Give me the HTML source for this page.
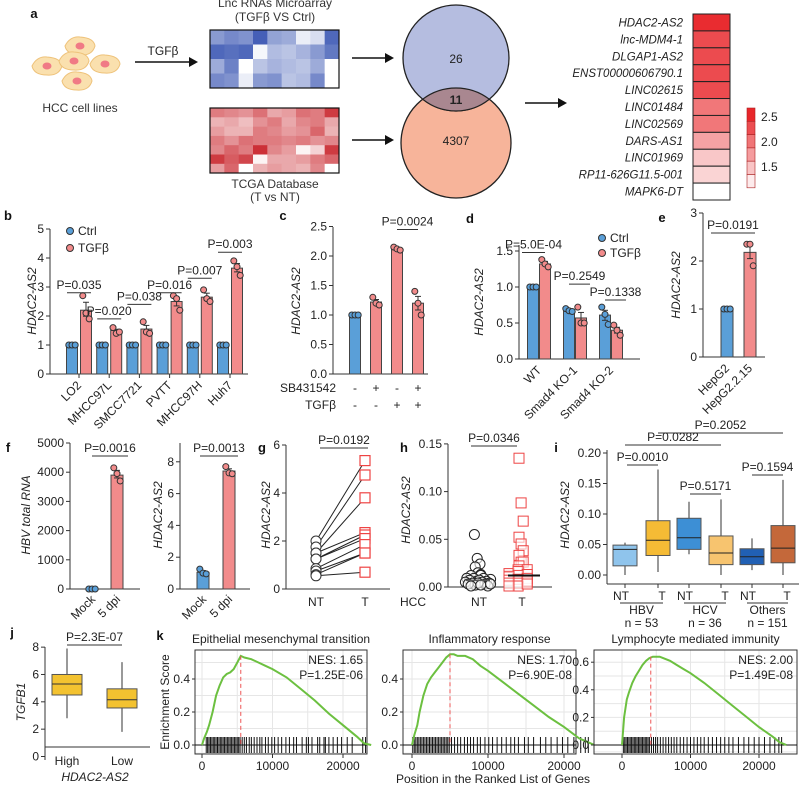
<!DOCTYPE html>
<html><head><meta charset="utf-8"><style>
html,body{margin:0;padding:0;background:#fff;}
svg{display:block;font-family:"Liberation Sans",Arial,sans-serif;}
</style></head><body>
<svg id="fig" width="799" height="786" viewBox="0 0 799 786" xmlns="http://www.w3.org/2000/svg"></svg>
<script>
// ---------- data ----------
const blueHeat=[[.6,.7,.65,.95,.55,.5,.1,.2,.9],[.9,.85,.9,.05,.4,.35,.45,.6,.8],[.5,.75,0,.35,.45,.4,.35,.5,0],[.7,.65,.1,.6,.65,.35,.4,.7,0]];
const redHeat=[[.6,.55,.5,.65,.4,.45,.65,.6,.9],[.35,.4,.3,.5,.6,.4,.55,.6,.4],[.45,.35,.35,.6,.55,.45,.5,.7,.35],[.6,.5,.65,.6,.6,.55,.6,.5,.55],[.55,.7,.6,.95,.55,.45,.05,.2,.9],[.9,.75,.85,.05,.4,.4,.45,.6,.7],[.45,.7,0,.35,.45,.4,.35,.55,0]];
const geneNames=["HDAC2-AS2","lnc-MDM4-1","DLGAP1-AS2","ENST00000606790.1","LINC02615","LINC01484","LINC02569","DARS-AS1","LINC01969","RP11-626G11.5-001","MAPK6-DT"];
const geneFC=[2.7,2.45,2.45,2.45,2.45,2.1,2.1,1.75,1.45,1.35,1.0];
const vennCounts=["26","11","4307"];
const bCells=["LO2","MHCC97L","SMCC7721","PVTT","MHCC97H","Huh7"];
const bCtrl=[1,1,1,1,1,1];
const bTgf=[2.2,1.5,1.55,2.5,2.65,3.65];
const bTgfDots=[[2.7,2.1,1.9],[1.6,1.4,1.45],[1.8,1.45,1.4],[2.7,2.6,2.2],[2.9,2.6,2.5],[3.9,3.7,3.4]];
const bP=["P=0.035","P=0.020","P=0.038","P=0.016","P=0.007","P=0.003"];
const bPLevel=[2.8,1.9,2.4,2.8,3.3,4.2];
const cVals=[1.0,1.22,2.12,1.2];
const cDots=[[1,1,1],[1.3,1.2,1.17],[2.15,2.12,2.1],[1.4,1.2,1.0]];
const cSB=["-","+","-","+"];
const cTGF=["-","-","+","+"];
const dGroups=["WT","Smad4 KO-1","Smad4 KO-2"];
const dCtrl=[1.0,0.67,0.61];
const dTgf=[1.32,0.57,0.40];
const dCtrlDots=[[1,1,1],[0.7,0.67,0.66],[0.72,0.62,0.48]];
const dTgfDots=[[1.38,1.32,1.28],[0.72,0.5,0.5],[0.47,0.4,0.33]];
const dP=["P=5.0E-04","P=0.2549","P=0.1338"];
const dPLevel=[1.48,1.04,0.82];
const eCats=["HepG2","HepG2.2.15"];
const eVals=[1.0,2.18];
const eDots=[[1,1,1],[2.35,2.35,1.9]];
const fHbv=[0,3900];
const fHbvDots=[[0,0,0],[4150,3950,3700]];
const fHd=[1.05,7.42];
const fHdDots=[[1.25,1.0,0.95],[7.7,7.3,7.25]];
const gNT=[2.0,1.75,1.5,1.5,1.25,1.25,0.85,0.75,0.6,0.55];
const gT=[5.35,4.75,3.8,2.35,2.25,2.1,1.85,1.5,1.5,0.7];
const hNT=[0.055,0.029,0.022,0.018,0.015,0.012,0.01,0.009,0.008,0.008,0.007,0.006,0.006,0.005,0.005,0.004,0.004,0.003,0.003,0.002,0.002,0.002,0.001,0.001,0.001,0.0,0.0,0.0];
const hT=[0.135,0.085,0.068,0.048,0.043,0.038,0.03,0.025,0.022,0.02,0.018,0.015,0.013,0.012,0.011,0.01,0.009,0.008,0.007,0.006,0.005,0.004,0.003,0.002,0.002,0.001,0.0,0.0];
const iLabels=["NT","T","NT","T","NT","T"];
const iLo=[0.0,0.005,0.034,0.0,0.008,0.0];
const iQ1=[0.015,0.032,0.042,0.017,0.017,0.020];
const iMed=[0.042,0.057,0.061,0.036,0.030,0.044];
const iQ3=[0.049,0.089,0.093,0.064,0.043,0.081];
const iHi=[0.053,0.173,0.120,0.124,0.060,0.156];
const iGroups=["HBV","HCV","Others"];
const iN=["n = 53","n = 36","n = 151"];
const jCats=["High","Low"];
const jLo=[2.8,1.8],jQ1=[4.5,3.55],jMed=[5.3,4.15],jQ3=[6.0,4.95],jHi=[7.9,6.9];
const kTitles=["Epithelial mesenchymal transition","Inflammatory response","Lymphocyte mediated immunity"];
const kNES=["NES: 1.65","NES: 1.70","NES: 2.00"];
const kP=["P=1.25E-06","P=6.90E-08","P=1.49E-08"];
const kPos=[0,300,700,1000,1500,2000,2500,3000,3500,4000,4500,5000,5500,6000,7000,8000,9000,10000,12000,14000,16000,18000,20000,22000,23000,24000];
const kES1=[0,0.04,0.08,0.12,0.2,0.3,0.36,0.41,0.43,0.44,0.46,0.5,0.54,0.53,0.52,0.5,0.48,0.46,0.41,0.34,0.27,0.19,0.12,0.05,0.01,0];
const kES2=[0,0.06,0.12,0.2,0.3,0.37,0.41,0.44,0.47,0.5,0.53,0.55,0.55,0.54,0.54,0.52,0.48,0.45,0.38,0.31,0.24,0.17,0.11,0.04,0.02,0];
const kES3=[0,0.2,0.33,0.38,0.45,0.5,0.54,0.58,0.61,0.63,0.64,0.64,0.64,0.63,0.61,0.58,0.55,0.52,0.45,0.37,0.29,0.21,0.13,0.06,0.02,0];
const kPeak=[5500,5000,4200];
const kHits1=[600,800,1000,1200,1400,1600,1800,2000,2200,2400,2600,2800,3000,3200,3400,3600,3800,4000,4200,4400,4600,4800,5000,5200,5400,5700,6000,6300,6700,7000,7400,7800,8200,8500,9000,9400,9900,10300,10800,11300,11900,12400,13000,13400,14200,14800,15100,15600,16400,16700,17300,17500,18000,18600,19200,19800,20600,21300,22800,23200];
const kHits2=[100,300,500,700,900,1100,1300,1500,1700,1900,2100,2300,2500,2700,2900,3100,3300,3500,3700,3900,4100,4300,4500,4700,4900,5200,5600,6000,6400,6900,7300,7700,8100,8600,9000,9600,10100,10600,11200,11800,12400,13000,13500,14000,14800,15300,16000,16900,17600,18300,19100,19800,20500,21300,22200,22800,23200];
const kHits3=[200,400,600,800,1000,1200,1400,1600,1800,2000,2200,2400,2600,2800,3000,3200,3400,3600,3800,4000,4300,4600,4900,5200,5600,6000,6400,6800,7200,7600,8000,8500,9000,9500,10000,10500,11000,11500,12000,12600,13200,13800,14400,15000,15600,16200,17000,17800,18500,19300,20000,20800,21600,22300,22900,23300];

// ---------- helpers ----------
const NS="http://www.w3.org/2000/svg";
const svg=document.getElementById('fig');
function mk(tag,attrs,name,parent){
  const e=document.createElementNS(NS,tag);
  for(const k in attrs) e.setAttribute(k,attrs[k]);
  
  
  (parent||svg).appendChild(e);
  return e;
}
function tx(x,y,s,name,o){
  o=o||{};
  const a={x:x,y:y,'font-size':o.fs||12,fill:o.fill||'#222','text-anchor':o.anchor||'middle'};
  if(o.italic) a['font-style']='italic';
  if(o.bold) a['font-weight']='bold';
  if(o.rot!==undefined) a.transform='rotate('+o.rot+' '+x+' '+y+')';
  const e=mk('text',a,name);
  e.textContent=s;
  return e;
}
function ln(x1,y1,x2,y2,name,o){
  o=o||{};
  return mk('line',{x1:x1,y1:y1,x2:x2,y2:y2,stroke:o.c||'#333','stroke-width':o.w||1,'stroke-dasharray':o.dash||'none'},name);
}
function rc(x,y,w,h,fill,name,o){
  o=o||{};
  return mk('rect',{x:x,y:y,width:w,height:h,fill:fill,stroke:o.s||'none','stroke-width':o.sw||1,'fill-opacity':o.fo===undefined?1:o.fo},name);
}
function ci(cx,cy,r,fill,name,o){
  o=o||{};
  return mk('circle',{cx:cx,cy:cy,r:r,fill:fill,stroke:o.s||'#333','stroke-width':o.sw||1,'fill-opacity':o.fo===undefined?1:o.fo},name);
}
function mix(c1,c2,t){
  const p=c=>[parseInt(c.substr(1,2),16),parseInt(c.substr(3,2),16),parseInt(c.substr(5,2),16)];
  const a=p(c1),b=p(c2);
  return 'rgb('+a.map((v,i)=>Math.round(v+(b[i]-v)*t)).join(',')+')';
}
function arrow(x1,x2,y,name){
  ln(x1,y,x2-8,y,name+'-shaft',{w:1.5,c:'#111'});
  mk('path',{d:'M'+(x2-9)+' '+(y-5)+' L'+x2+' '+y+' L'+(x2-9)+' '+(y+5)+' Z',fill:'#111'},name+'-head');
}
const BLUE='#5a9fd8',RED='#f28b8b';
function yAxis(x,yTop,yBot,ticks,scale,fmt,name){
  ln(x,yTop,x,yBot,name+'-line');
  ticks.forEach(t=>{const y=scale(t);ln(x-4,y,x,y,name+'-tick');tx(x-6,y+4,fmt(t),name+'-label',{anchor:'end'});});
}
function bar(x,w,v,scale,color,name){
  const y0=scale(0),y=scale(v);
  rc(x-w/2,y,w,y0-y,color,name,{s:'#444'});
}
function errDots(x,vals,scale,color,name){
  const m=vals.reduce((a,b)=>a+b,0)/vals.length;
  const sd=Math.sqrt(vals.reduce((a,b)=>a+(b-m)*(b-m),0)/(vals.length-1))/Math.sqrt(vals.length);
  ln(x,scale(m-sd),x,scale(m+sd),name+'-errorbar');
  ln(x-3,scale(m+sd),x+3,scale(m+sd),name+'-errorcap');
  ln(x-3,scale(m-sd),x+3,scale(m-sd),name+'-errorcap');
  vals.forEach((v,i)=>ci(x+(i-1)*3.2,scale(v),3,color,name+'-dot'));
}
function pLine(x1,x2,y,s,name){
  ln(x1,y,x2,y,name+'-bracket');
  tx((x1+x2)/2,y-4,s,name,{fs:12});
}

// ---------- panel a ----------
tx(34,18,'a','panel-label-a',{bold:true,fs:13,fill:'#111'});
[[47,66],[80,46],[74,61],[105,64],[77,81]].forEach((p,i)=>{
  mk('path',{d:'M'+(p[0]-15)+' '+p[1]+' Q'+(p[0]-10)+' '+(p[1]-10)+' '+p[0]+' '+(p[1]-9)+' Q'+(p[0]+14)+' '+(p[1]-8)+' '+(p[0]+15)+' '+p[1]+' Q'+(p[0]+12)+' '+(p[1]+10)+' '+p[0]+' '+(p[1]+9)+' Q'+(p[0]-13)+' '+(p[1]+9)+' '+(p[0]-15)+' '+p[1]+' Z',fill:'#fae0ae',stroke:'#eec27a','stroke-width':1},'hcc-cell');
  mk('ellipse',{cx:p[0],cy:p[1],rx:4.5,ry:3.5,fill:'#f07a85'},'cell-nucleus');
});
tx(80,112,'HCC cell lines','hcc-cell-lines-label',{fs:12,fill:'#333'});
arrow(135,198,62,'tgfb-arrow');
tx(163,55,'TGFβ','tgfb-arrow-label',{fs:12});
tx(275,7,'Lnc RNAs Microarray','microarray-title',{fs:12,fill:'#333'});
tx(275,21,'(TGFβ VS Ctrl)','microarray-subtitle',{fs:12,fill:'#333'});
const bw=129/9;
blueHeat.forEach((row,r)=>row.forEach((v,c)=>rc(210+c*bw,30+r*14.5,bw+0.3,14.8,mix('#ffffff','#3b57b3',v),'microarray-cell')));
rc(210,30,129,58,'none','microarray-heatmap',{s:'#111',sw:1.2});
redHeat.forEach((row,r)=>row.forEach((v,c)=>rc(210+c*bw,108+r*9.3,bw+0.3,9.6,mix('#ffffff','#c9252c',v),'tcga-cell')));
rc(210,108,129,65,'none','tcga-heatmap',{s:'#111',sw:1.2});
tx(275,188,'TCGA Database','tcga-title',{fs:12,fill:'#333'});
tx(275,201,'(T vs NT)','tcga-subtitle',{fs:12,fill:'#333'});
arrow(352,394,58,'microarray-arrow');
arrow(352,394,140,'tcga-arrow');
ci(456,143,55,'#f7b49a','venn-tcga-circle',{s:'#222',sw:1.3});
ci(456,58,53,'#b5bde0','venn-microarray-circle',{s:'#222',sw:1.3});
mk('path',{d:'M422.7 99.2 A53 53 0 0 0 489.3 99.2 A55 55 0 0 0 422.7 99.2 Z',fill:'#a98790',stroke:'#222','stroke-width':1.2},'venn-overlap');
tx(456,63,vennCounts[0],'venn-count-microarray',{fs:12});
tx(456,104,vennCounts[1],'venn-count-overlap',{fs:12,bold:true});
tx(456,145,vennCounts[2],'venn-count-tcga',{fs:12});
arrow(525,567,103,'venn-arrow');
const gh=186/11;
geneNames.forEach((g,i)=>{
  const t=(geneFC[i]-1)/1.75;
  rc(693,14+i*gh,37,gh,mix('#ffffff','#e8262a',Math.min(1,t)),'gene-heat-cell',{s:'#222',sw:1});
  tx(683,14+i*gh+gh/2+4,g,'gene-label',{anchor:'end',italic:true,fs:11.5});
});
for(let i=0;i<6;i++){rc(747,108+i*13.3,8,13.3,mix('#ffffff','#e8262a',1-i/5.5),'colorbar-cell',{s:'#aa2222',sw:0.6});}
tx(761,121,'2.5','colorbar-label',{anchor:'start'});
tx(761,146,'2.0','colorbar-label',{anchor:'start'});
tx(761,171,'1.5','colorbar-label',{anchor:'start'});

// ---------- panel b ----------
tx(8,220,'b','panel-label-b',{bold:true,fs:13,fill:'#111'});
const yb=v=>374-v*29;
yAxis(50,229,374,[0,1,2,3,4,5],yb,t=>t,'b-y-axis');
ln(50,374,248,374,'b-x-axis');
tx(36,301,'HDAC2-AS2','b-y-axis-title',{italic:true,rot:-90});
ci(70,231,3.5,BLUE,'b-legend-ctrl-dot');tx(78,235,'Ctrl','b-legend-ctrl',{anchor:'start'});
ci(70,248,3.5,RED,'b-legend-tgfb-dot');tx(78,252,'TGFβ','b-legend-tgfb',{anchor:'start'});
bCells.forEach((c,i)=>{
  const gx=79+i*30.2;
  bar(gx-7,11,bCtrl[i],yb,BLUE,'b-bar-ctrl');
  bar(gx+7,11,bTgf[i],yb,RED,'b-bar-tgfb');
  errDots(gx-7,[1,1,1],yb,BLUE,'b-ctrl');
  errDots(gx+7,bTgfDots[i],yb,RED,'b-tgfb');
  pLine(gx-12,gx+12,yb(bPLevel[i]),bP[i],'b-pvalue');
  ln(gx,374,gx,378,'b-x-tick');
  tx(gx+3,386,c,'b-x-label',{anchor:'end',rot:-45});
});

// ---------- panel c ----------
tx(283,220,'c','panel-label-c',{bold:true,fs:13,fill:'#111'});
const yc=v=>374-v*59;
yAxis(333,227,374,[0,0.5,1,1.5,2,2.5],yc,t=>t.toFixed(1),'c-y-axis');
ln(333,374,428,374,'c-x-axis');
tx(300,301,'HDAC2-AS2','c-y-axis-title',{italic:true,rot:-90});
cVals.forEach((v,i)=>{
  const x=355+i*21;
  bar(x,11,v,yc,i===0?BLUE:RED,'c-bar');
  errDots(x,cDots[i],yc,i===0?BLUE:RED,'c-bar');
  tx(x,392,cSB[i],'c-sb431542-sign');
  tx(x,409,cTGF[i],'c-tgfb-sign');
});
tx(336,392,'SB431542','c-sb431542-label',{anchor:'end'});
tx(336,409,'TGFβ','c-tgfb-label',{anchor:'end'});
pLine(397,418,yc(2.45),'P=0.0024','c-pvalue');

// ---------- panel d ----------
tx(470,223,'d','panel-label-d',{bold:true,fs:13,fill:'#111'});
const yd=v=>359-v*72;
yAxis(519,245,359,[0,0.5,1,1.5],yd,t=>t.toFixed(1),'d-y-axis');
ln(519,359,640,359,'d-x-axis');
tx(483,302,'HDAC2-AS2','d-y-axis-title',{italic:true,rot:-90});
ci(602,238,3.5,BLUE,'d-legend-ctrl-dot');tx(610,242,'Ctrl','d-legend-ctrl',{anchor:'start'});
ci(602,253,3.5,RED,'d-legend-tgfb-dot');tx(610,257,'TGFβ','d-legend-tgfb',{anchor:'start'});
dGroups.forEach((g,i)=>{
  const gx=539+i*36;
  bar(gx-6,11,dCtrl[i],yd,BLUE,'d-bar-ctrl');
  bar(gx+6,11,dTgf[i],yd,RED,'d-bar-tgfb');
  errDots(gx-6,dCtrlDots[i],yd,BLUE,'d-ctrl');
  errDots(gx+6,dTgfDots[i],yd,RED,'d-tgfb');
  const x1=i===0?522:gx-6, x2=i===0?545:gx+15;
  pLine(x1,x2,yd(dPLevel[i]),dP[i],'d-pvalue');
  tx(gx+3,371,g,'d-x-label',{anchor:'end',rot:-45});
});

// ---------- panel e ----------
tx(662,222,'e','panel-label-e',{bold:true,fs:13,fill:'#111'});
const ye=v=>357-v*48;
yAxis(703,213,357,[0,1,2,3],ye,t=>t,'e-y-axis');
ln(703,357,765,357,'e-x-axis');
tx(680,285,'HDAC2-AS2','e-y-axis-title',{italic:true,rot:-90});
eCats.forEach((c,i)=>{
  const x=727+i*23;
  bar(x,12,eVals[i],ye,i===0?BLUE:RED,'e-bar');
  errDots(x,eDots[i],ye,i===0?BLUE:RED,'e-bar');
  tx(x+3,369,c,'e-x-label',{anchor:'end',rot:-45});
});
pLine(711,755,233,'P=0.0191','e-pvalue');

// ---------- panel f ----------
tx(8,452,'f','panel-label-f',{bold:true,fs:13,fill:'#111'});
const yf1=v=>589-v*0.0292;
yAxis(70,443,589,[0,1000,2000,3000,4000,5000],yf1,t=>t,'f-hbv-y-axis');
ln(70,589,140,589,'f-hbv-x-axis');
tx(30,515,'HBV total RNA','f-hbv-y-axis-title',{italic:true,rot:-90});
['Mock','5 dpi'].forEach((c,i)=>{
  const x=92+i*25;
  bar(x,12,fHbv[i],yf1,i===0?BLUE:RED,'f-hbv-bar');
  errDots(x,fHbvDots[i],yf1,i===0?BLUE:RED,'f-hbv-bar');
  tx(x+4,600,c,'f-hbv-x-label',{anchor:'end',rot:-45});
});
pLine(92,128,456,'P=0.0016','f-hbv-pvalue');
const yf2=v=>589-v*15.9;
yAxis(180,443,589,[0,2,4,6,8],yf2,t=>t,'f-hdac-y-axis');
ln(180,589,250,589,'f-hdac-x-axis');
tx(162,515,'HDAC2-AS2','f-hdac-y-axis-title',{italic:true,rot:-90});
['Mock','5 dpi'].forEach((c,i)=>{
  const x=203+i*26;
  bar(x,12,fHd[i],yf2,i===0?BLUE:RED,'f-hdac-bar');
  errDots(x,fHdDots[i],yf2,i===0?BLUE:RED,'f-hdac-bar');
  tx(x+4,600,c,'f-hdac-x-label',{anchor:'end',rot:-45});
});
pLine(200,238,456,'P=0.0013','f-hdac-pvalue');

// ---------- panel g ----------
tx(262,452,'g','panel-label-g',{bold:true,fs:13,fill:'#111'});
const yg=v=>589-v*24;
yAxis(286,445,589,[0,2,4,6],yg,t=>t,'g-y-axis');
ln(286,589,390,589,'g-x-axis');
tx(270,515,'HDAC2-AS2','g-y-axis-title',{italic:true,rot:-90});
gNT.forEach((v,i)=>ln(316,yg(v),365,yg(gT[i]),'g-pair-line',{c:'#222'}));
gNT.forEach(v=>ci(316,yg(v),5,'#fff','g-nt-point',{s:'#333'}));
gT.forEach(v=>rc(360,yg(v)-5,10,10,'#fff','g-t-point',{s:'#ee4444',sw:1.2}));
tx(316,606,'NT','g-x-label');tx(365,606,'T','g-x-label');
pLine(320,368,448,'P=0.0192','g-pvalue');

// ---------- panel h ----------
tx(404,452,'h','panel-label-h',{bold:true,fs:13,fill:'#111'});
const yh=v=>587-v*954;
yAxis(448,444,587,[0,0.05,0.10,0.15],yh,t=>t.toFixed(2),'h-y-axis');
ln(448,587,552,587,'h-x-axis');
tx(410,510,'HDAC2-AS2','h-y-axis-title',{italic:true,rot:-90});
hNT.forEach((v,i)=>ci(478+((i*7)%19-9)*(v<0.012?1.4:0.4),yh(v)-((i*5)%4),5,'#fff','h-nt-point',{s:'#222',fo:0.6}));
hT.forEach((v,i)=>rc(522+((i*7)%21-10)*(v<0.02?1.3:0.3)-5,yh(v)-5-((i*3)%5),10,10,'#fff','h-t-point',{s:'#ee4444',sw:1,fo:0.6}));
ln(466,yh(0.007),490,yh(0.007),'h-nt-median',{w:1.5,c:'#555'});
ln(508,yh(0.012),540,yh(0.012),'h-t-median',{w:2,c:'#111'});
tx(413,606,'HCC','h-group-label');tx(479,606,'NT','h-x-label');tx(522,606,'T','h-x-label');
pLine(471,517,446,'P=0.0346','h-pvalue');

// ---------- panel i ----------
tx(556,452,'i','panel-label-i',{bold:true,fs:13,fill:'#111'});
const yi=v=>575-v*610;
yAxis(607,450,584,[0,0.05,0.10,0.15,0.20],yi,t=>t.toFixed(2),'i-y-axis');
ln(607,584,799,584,'i-x-axis');
tx(569,515,'HDAC2-AS2','i-y-axis-title',{italic:true,rot:-90});
const iCol=['#8fc4ec','#f5bb35','#3d8fd5','#f7c46f','#2160b4','#c4683a'];
const iX=[625,658,689,721,752,783];
iX.forEach((x,i)=>{
  ln(x,yi(iLo[i]),x,yi(iQ1[i]),'i-whisker-low');
  ln(x,yi(iQ3[i]),x,yi(iHi[i]),'i-whisker-high');
  rc(x-12,yi(iQ3[i]),24,yi(iQ1[i])-yi(iQ3[i]),iCol[i],'i-box',{s:'#555',sw:1});
  ln(x-12,yi(iMed[i]),x+12,yi(iMed[i]),'i-median',{c:'#222'});
  ln(x,584,x,588,'i-x-tick');
  tx(x+(i%2?4:-4),600,iLabels[i],'i-x-label');
});
iGroups.forEach((g,k)=>{
  const xa=iX[2*k],xb=iX[2*k+1];
  ln(xa-5,603,xb+5,603,'i-group-underline');
  tx((xa+xb)/2,614,g,'i-group-label');
  tx((xa+xb)/2,627,iN[k],'i-group-n');
});
pLine(658,783,433,'P=0.2052','i-pvalue-hbv-t-others-t');
pLine(625,721,445,'P=0.0282','i-pvalue-hbv-hcv');
pLine(627,658,465,'P=0.0010','i-pvalue-hbv');
pLine(690,721,494,'P=0.5171','i-pvalue-hcv');
pLine(752,783,475,'P=0.1594','i-pvalue-others');

// ---------- panel j ----------
tx(12,637,'j','panel-label-j',{bold:true,fs:13,fill:'#111'});
const yj=v=>756.5-v*13.67;
yAxis(45,647,760,[0,2,4,6,8],yj,t=>t,'j-y-axis');
ln(45,747,150,747,'j-x-axis');
tx(25,702,'TGFB1','j-y-axis-title',{italic:true,rot:-90});
jCats.forEach((c,i)=>{
  const x=67+i*55;
  ln(x,yj(jLo[i]),x,yj(jHi[i]),'j-whisker');
  rc(x-15,yj(jQ3[i]),30,yj(jQ1[i])-yj(jQ3[i]),'#f3c230','j-box',{s:'#555'});
  ln(x-15,yj(jMed[i]),x+15,yj(jMed[i]),'j-median',{c:'#333'});
  tx(x,765,c,'j-x-label');
});
tx(95,781,'HDAC2-AS2','j-x-axis-title',{italic:true});
pLine(67,122,645,'P=2.3E-07','j-pvalue');

// ---------- panel k ----------
tx(160,640,'k','panel-label-k',{bold:true,fs:13,fill:'#111'});
const kCfg=[
 {x0:195,x1:367,zero:202,px10k:70.5,yz:745,pxu:165,ticks:[0,0.2,0.4],es:kES1,hits:kHits1},
 {x0:403,x1:576,zero:412,px10k:76,yz:745,pxu:165,ticks:[0,0.2,0.4],es:kES2,hits:kHits2},
 {x0:594,x1:797,zero:622,px10k:68.5,yz:745,pxu:138,ticks:[0,0.2,0.4,0.6],es:kES3,hits:kHits3}];
kCfg.forEach((c,k)=>{
  const X=p=>c.zero+p/10000*c.px10k, Y=v=>c.yz-v*c.pxu;
  rc(c.x0,650,c.x1-c.x0,104,'#fff','k-plot-'+(k+1)+'-panel');
  [0,5000,10000,15000,20000].forEach(p=>ln(X(p),650,X(p),754,'k-grid-x',{c:'#e6e6e6'}));
  [-0.05,0.1,0.3,0.5,0.7].concat(c.ticks).forEach(v=>{if(Y(v)>650&&Y(v)<754)ln(c.x0,Y(v),c.x1,Y(v),'k-grid-y',{c:'#e6e6e6'});});
  rc(c.x0,650,c.x1-c.x0,104,'none','k-plot-'+(k+1)+'-frame',{s:'#333'});
  ln(c.x0,c.yz,c.x1,c.yz,'k-zero-line',{c:'#111'});
  c.hits.forEach(p=>ln(X(p),c.yz-8,X(p),c.yz+8,'k-hit-tick',{c:'#111'}));
  let d='';
  kPos.forEach((p,i)=>{d+=(i?'L':'M')+X(p).toFixed(1)+' '+Y(c.es[i]).toFixed(1)+' ';});
  mk('path',{d:d,fill:'none',stroke:'#6cc040','stroke-width':2},'k-enrichment-curve');
  ln(X(kPeak[k]),Y(Math.max.apply(null,c.es)),X(kPeak[k]),c.yz,'k-peak-line',{c:'#ee5555',dash:'4,3'});
  c.ticks.forEach(v=>{ln(c.x0-3,Y(v),c.x0,Y(v),'k-y-tick');tx(c.x0-5,Y(v)+4,v.toFixed(1),'k-y-label',{anchor:'end'});});
  [0,10000,20000].forEach(p=>{ln(X(p),754,X(p),758,'k-x-tick');tx(X(p),770,String(p),'k-x-label');});
  tx((c.x0+c.x1)/2,643,kTitles[k],'k-title',{fs:12});
  tx(c.x1-4,664,kNES[k],'k-nes',{anchor:'end'});
  tx(c.x1-4,679,kP[k],'k-pvalue',{anchor:'end'});
});
tx(169,702,'Enrichment Score','k-y-axis-title',{rot:-90});
tx(493,783,'Position in the Ranked List of Genes','k-x-axis-title');
</script>
</body></html>
